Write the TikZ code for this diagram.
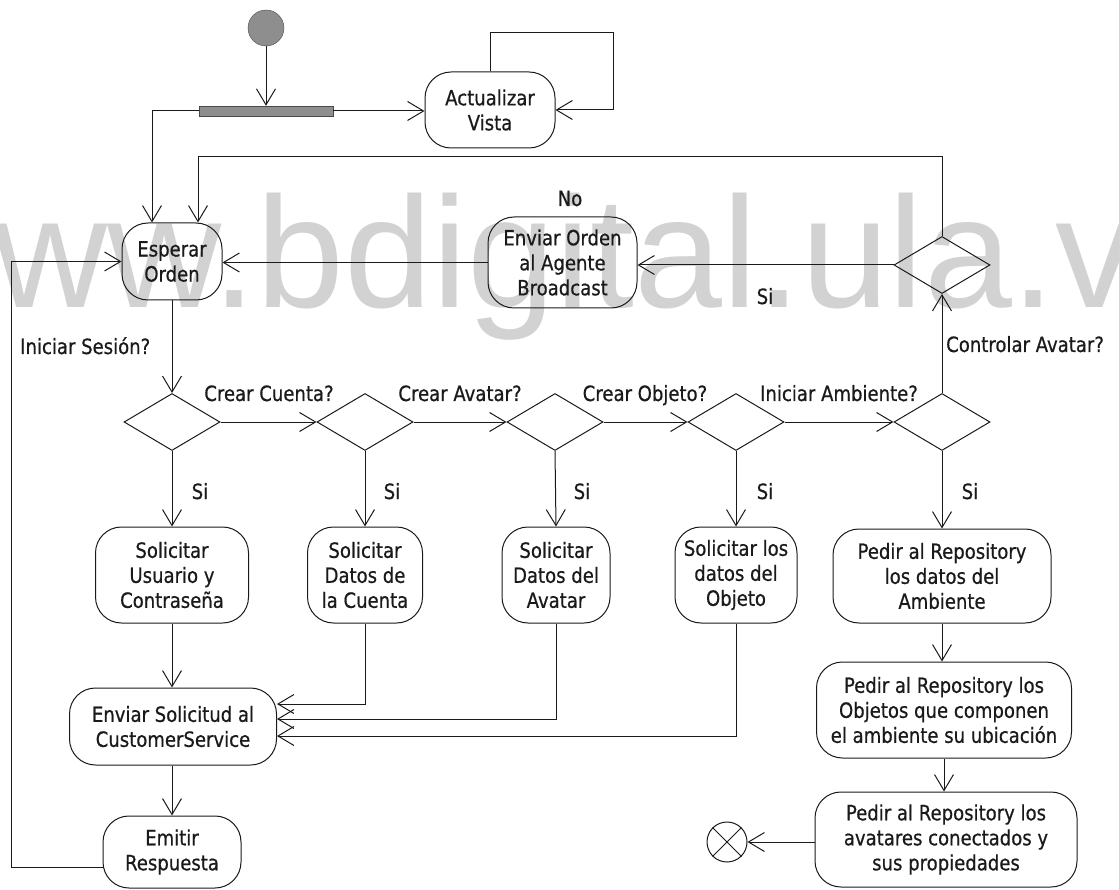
\documentclass[tikz,border=0pt]{standalone}
\usepackage{fontspec}
\setmainfont{DejaVu Sans}[FakeStretch=0.86, FakeBold=0.6]
\newfontfamily\wmfont{Liberation Sans}
\usetikzlibrary{arrows.meta,shapes.geometric}

\definecolor{ink}{HTML}{1A1A1A}
\definecolor{wmgray}{HTML}{D2D2D2}
\definecolor{solidgray}{HTML}{8E8E8E}

\tikzset{
  txt/.style={font=\fontsize{21}{25}\selectfont, text=ink},
  lbl/.style={txt, inner sep=0},
  activity/.style={txt, draw=ink, line width=1pt, rounded corners=26pt,
    align=center, inner sep=0},
  decision/.style={draw=ink, line width=1pt, diamond, inner sep=0,
    minimum width=96pt, minimum height=57pt},
  arr/.style={draw=ink, line width=1pt,
    -{Straight Barb[length=16pt,width=19pt,line width=1pt]}},
  link/.style={draw=ink, line width=1pt},
}

\begin{document}
\begin{tikzpicture}[x=1pt,y=-1pt]
\useasboundingbox (0,0) rectangle (1119,890);

% watermark
\begin{scope}
  \clip (0,0) rectangle (1119,890);
  \node[anchor=base west, inner sep=0, text=wmgray,
        font=\wmfont\fontsize{158}{158}\selectfont] (wm) at (-121,308)
        {www.bdigital.ula.ve};
\end{scope}

% initial node and fork
\node[draw=ink!80, fill=solidgray, circle, minimum size=36pt, inner sep=0] (start) at (266,28) {};
\node[draw=ink!80, fill=solidgray, minimum width=134pt, minimum height=10pt, inner sep=0] (fork) at (266,111) {};

% activities
\node[activity, minimum width=130pt, minimum height=76pt] (act) at (490,110) {Actualizar\\Vista};
\node[activity, minimum width=100pt, minimum height=77pt] (esp) at (172,261.5) {Esperar\\Orden};
\node[activity, minimum width=149pt, minimum height=91pt] (env) at (562.5,262.5) {Enviar Orden\\al Agente\\Broadcast};

\node[activity, minimum width=153pt, minimum height=96pt] (s1) at (172,575) {Solicitar\\Usuario y\\Contraseña};
\node[activity, minimum width=115pt, minimum height=96pt] (s2) at (365,575) {Solicitar\\Datos de\\la Cuenta};
\node[activity, minimum width=108pt, minimum height=96pt] (s3) at (556,575) {Solicitar\\Datos del\\Avatar};
\node[activity, minimum width=122pt, minimum height=96pt] (s4) at (736,575) {Solicitar los\\datos del\\Objeto};

\node[activity, minimum width=207pt, minimum height=77pt] (cs) at (173,726.5) {Enviar Solicitud al\\CustomerService};
\node[activity, minimum width=138pt, minimum height=72pt] (em) at (172,852) {Emitir\\Respuesta};

\node[activity, minimum width=218pt, minimum height=94pt] (p1) at (942,576) {Pedir al Repository\\los datos del\\Ambiente};
\node[activity, minimum width=255pt, minimum height=96pt] (p2) at (944,710) {Pedir al Repository los\\Objetos que componen\\el ambiente su ubicación};
\node[activity, minimum width=262pt, minimum height=95pt] (p3) at (946,839.5) {Pedir al Repository los\\avatares conectados y\\sus propiedades};

% final node
\node[draw=ink, line width=1pt, circle, minimum size=40pt, inner sep=0] (fin) at (727,842) {};
\draw[link] (fin.north west) -- (fin.south east);
\draw[link] (fin.north east) -- (fin.south west);

% decisions
\node[decision] (dC) at (942,265) {};
\node[decision] (d1) at (172,422) {};
\node[decision] (d2) at (365,422) {};
\node[decision] (d3) at (555,422) {};
\node[decision] (d4) at (736,422) {};
\node[decision] (d5) at (942,422) {};

% flow at the top
\draw[arr] (start.south) -- (fork.north);
\draw[arr] (fork.east) -- (fork.east -| act.west);
\draw[arr] (fork.west) -| ([xshift=-20pt]esp.north);
\draw[arr] (act.north) -- ++(0,-39) -| ([xshift=58pt]act.east) -- (act.east);

% control loop
\draw[arr] (dC.north) -- ++(0,-79) -| ([xshift=26pt]esp.north);
\node[lbl, anchor=base] at (570,206) {No};
\draw[arr] (dC.west) -- (dC.west -| env.east);
\node[lbl, anchor=base] at (765,304) {Si};
\draw[arr] (env.west) -- (env.west -| esp.east);

% main choice chain
\draw[arr] (esp.south) -- (d1.north);
\node[lbl, anchor=base west] at (20,354) {Iniciar Sesión?};
\draw[arr] (d1.east) -- (d2.west);
\draw[arr] (d2.east) -- (d3.west);
\draw[arr] (d3.east) -- (d4.west);
\draw[arr] (d4.east) -- (d5.west);
\node[lbl, anchor=base] at (269,401) {Crear Cuenta?};
\node[lbl, anchor=base] at (460,401) {Crear Avatar?};
\node[lbl, anchor=base] at (645,401) {Crear Objeto?};
\node[lbl, anchor=base] at (839,401) {Iniciar Ambiente?};
\draw[arr] (d5.north) -- (dC.south);
\node[lbl, anchor=base west] at (946,352) {Controlar Avatar?};

% branches
\draw[arr] (d1.south) -- (s1.north);
\draw[arr] (d2.south) -- (s2.north);
\draw[arr] (d3.south) -- (s3.north);
\draw[arr] (d4.south) -- (s4.north);
\draw[arr] (d5.south) -- (p1.north);
\node[lbl, anchor=base] at (200,499) {Si};
\node[lbl, anchor=base] at (392,499) {Si};
\node[lbl, anchor=base] at (582,499) {Si};
\node[lbl, anchor=base] at (765,499) {Si};
\node[lbl, anchor=base] at (970,499) {Si};

% requests to the customer service
\draw[arr] (s1.south) -- (s1.south |- cs.north);
\draw[arr] (s2.south) |- ([yshift=22.5pt]cs.east);
\draw[arr] (s3.south) |- ([yshift=7.5pt]cs.east);
\draw[arr] (s4.south) |- ([yshift=-9.5pt]cs.east);
\draw[arr] (cs.south -| em.north) -- (em.north);
\draw[arr] ([yshift=-15pt]em.west) -| ([xshift=-110pt]esp.west) -- (esp.west);

% environment loading
\draw[arr] (p1.south) -- (p1.south |- p2.north);
\draw[arr] (p2.south) -- (p2.south |- p3.north);
\draw[arr] (p3.west |- fin.east) -- (fin.east);
\end{tikzpicture}
\end{document}
